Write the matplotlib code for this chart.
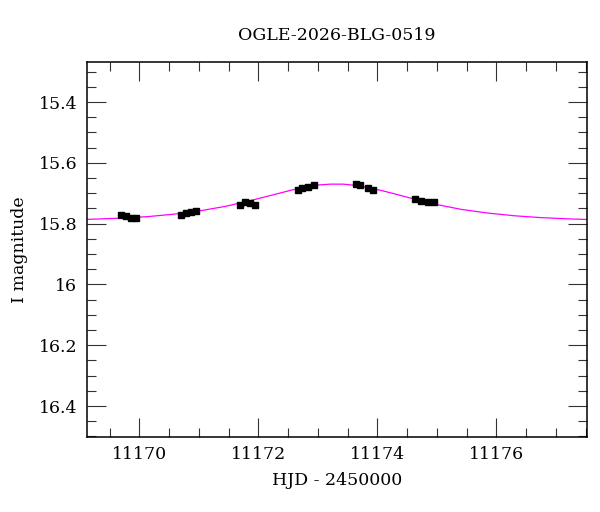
import matplotlib
matplotlib.use("Agg")
import matplotlib.pyplot as plt
from matplotlib.ticker import MultipleLocator, FormatStrFormatter, FuncFormatter

# OGLE photometry (HJD - 2450000, I mag)
hjd_obs = [11169.69, 11169.77, 11169.86, 11169.94,
           11170.70, 11170.79, 11170.86, 11170.95,
           11171.69, 11171.78, 11171.86, 11171.95,
           11172.66, 11172.74, 11172.84, 11172.93,
           11173.64, 11173.71, 11173.84, 11173.93,
           11174.64, 11174.73, 11174.85, 11174.95]
mag_obs = [15.772, 15.775, 15.781, 15.783,
           15.773, 15.766, 15.762, 15.758,
           15.737, 15.728, 15.732, 15.740,
           15.688, 15.683, 15.680, 15.674,
           15.668, 15.672, 15.684, 15.688,
           15.718, 15.724, 15.728, 15.730]
err_obs = [0.006] * len(mag_obs)

# model light curve
hjd_model = [11168.81, 11169.25, 11169.69, 11170.13, 11170.57, 11171.01,
             11171.45, 11171.89, 11172.33, 11172.55, 11172.77, 11172.99,
             11173.21, 11173.43, 11173.65, 11173.87, 11174.09, 11174.27,
             11174.53, 11174.71, 11174.97, 11175.41, 11175.85, 11176.30,
             11176.74, 11177.18, 11177.62]
mag_model = [15.788, 15.785, 15.782, 15.777, 15.769, 15.758,
             15.743, 15.723, 15.701, 15.690, 15.680, 15.673,
             15.670, 15.670, 15.6745, 15.682, 15.692, 15.701,
             15.7145, 15.723, 15.736, 15.753, 15.765, 15.774,
             15.780, 15.784, 15.787]

plt.rcParams["font.family"] = ["DejaVu Serif"]

fig = plt.figure(figsize=(6.0, 5.12), dpi=100)
ax = fig.add_axes([0.145, 0.147, 0.834, 0.732])

ax.plot(hjd_model, mag_model, "-", color="#ff00ff", lw=0.9, zorder=2)
ax.errorbar(hjd_obs, mag_obs, yerr=err_obs, fmt="s", color="black", ms=3.8,
            elinewidth=1.2, capsize=2.0, capthick=1.2, zorder=3)

ax.set_xlim(11169.12, 11177.53)
ax.set_ylim(16.501, 15.268)

ax.xaxis.set_major_locator(MultipleLocator(2))
ax.xaxis.set_minor_locator(MultipleLocator(0.5))
ax.xaxis.set_major_formatter(FormatStrFormatter("%d"))
ax.yaxis.set_major_locator(MultipleLocator(0.2))
ax.yaxis.set_minor_locator(MultipleLocator(0.05))
ax.yaxis.set_major_formatter(FuncFormatter(lambda v, p: f"{v:.1f}".rstrip("0").rstrip(".")))

ax.tick_params(which="both", direction="in", top=True, right=True,
               labelsize=12.5, width=0.8, color="#333333")
ax.tick_params(which="major", length=13.5, pad=7)
ax.tick_params(which="minor", length=6.8)
for s in ax.spines.values():
    s.set_linewidth(1.1)

ax.set_xlabel("HJD - 2450000", fontsize=12.5, labelpad=6)
ax.set_ylabel("I magnitude", fontsize=12.5, labelpad=8)
ax.set_title("OGLE-2026-BLG-0519", fontsize=12.5, pad=16)

fig.savefig("out.png", dpi=100)
